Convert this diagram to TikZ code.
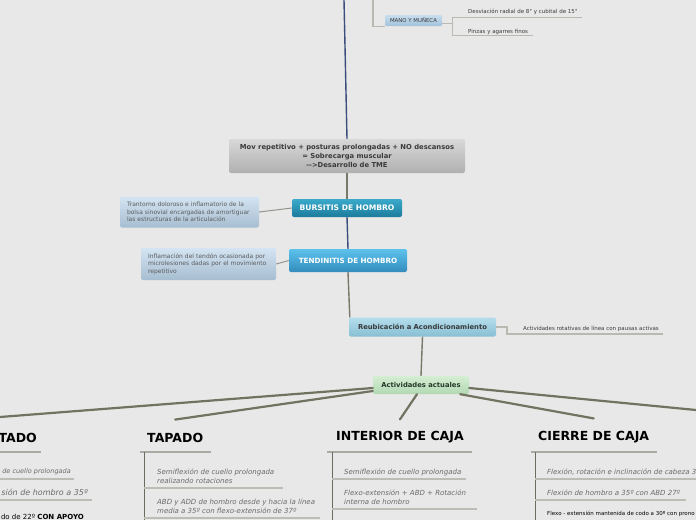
\documentclass[tikz,border=0pt]{standalone}
\usepackage{fontspec}
\setmainfont{DejaVu Sans}
\usetikzlibrary{positioning,calc}
\definecolor{canvasBg}{HTML}{E8E8E8}
\definecolor{navyLine}{HTML}{3B4D7C}
\definecolor{oliveLine}{HTML}{78786A}
\definecolor{branchLine}{HTML}{727260}
\definecolor{softLine}{HTML}{B9B9B1}
\definecolor{ruleLine}{HTML}{BDBDB6}
\definecolor{colLine}{HTML}{6C6C5E}
\definecolor{txtDark}{HTML}{3A3A3A}
\definecolor{txtMid}{HTML}{5C5C5C}
\definecolor{txtItem}{HTML}{6A6A6A}
\definecolor{greenText}{HTML}{28382A}
\definecolor{coreTop}{HTML}{D8D8D8}
\definecolor{coreBot}{HTML}{B0B0B0}
\definecolor{bursTop}{HTML}{3AAACB}
\definecolor{bursBot}{HTML}{1C7B9C}
\definecolor{tendTop}{HTML}{5CC2EC}
\definecolor{tendBot}{HTML}{338CBD}
\definecolor{reubTop}{HTML}{B4DEEC}
\definecolor{reubBot}{HTML}{88BED3}
\definecolor{actTop}{HTML}{D4EED4}
\definecolor{actBot}{HTML}{B2D8B2}
\definecolor{noteTop}{HTML}{D4E4F2}
\definecolor{noteBot}{HTML}{A6BDD1}
\definecolor{manoTop}{HTML}{C8DEEE}
\definecolor{manoBot}{HTML}{A2C2DB}

\begin{document}
\begin{tikzpicture}[x=1pt,y=-1pt,
          every node/.style={font=\fontsize{6.8}{9}\selectfont\bfseries,
                             text=txtDark,align=center,inner sep=0pt},
          core/.style={rounded corners=2pt,top color=coreTop,bottom color=coreBot},
          issue/.style={rounded corners=2pt,text=white},
          note/.style={rounded corners=2pt,top color=noteTop,bottom color=noteBot,
                       align=left,text=txtMid,inner xsep=7pt,
                       font=\fontsize{6}{7.6}\selectfont},
          header/.style={font=\fontsize{12.5}{14}\selectfont\bfseries,text=black},
          leaf/.style={align=left,text=txtItem,font=\fontsize{7}{9}\selectfont\itshape},
          tiny/.style={align=left,text=txtDark,font=\fontsize{5.5}{7}\selectfont},
          branch/.style={branchLine,line width=2.2pt,line cap=round},
        ]
        \useasboundingbox (0,0) rectangle (696,520);
        \fill[canvasBg] (0,0) rectangle (696,520);
        \clip (0,0) rectangle (696,520);

        % central column
        \node[core,minimum width=236,minimum height=34] (core) at (347,156)
              {Mov repetitivo + posturas prolongadas + NO descansos\\= Sobrecarga muscular\\{-}{-}>Desarrollo de TME};
        \node[issue,top color=bursTop,bottom color=bursBot,font=\fontsize{7.6}{9}\selectfont\bfseries,
              minimum width=110,minimum height=18] (bursitis) at (347,208) {BURSITIS DE HOMBRO};
        \node[issue,top color=tendTop,bottom color=tendBot,font=\fontsize{7.2}{9}\selectfont\bfseries,
              minimum width=118,minimum height=23] (tendinitis) at (348,260.5) {TENDINITIS DE HOMBRO};
        \node[rounded corners=2pt,top color=reubTop,bottom color=reubBot,
              minimum width=147,minimum height=19] (reub) at (422.5,327) {Reubicación a Acondicionamiento};
        \node[rounded corners=2pt,top color=actTop,bottom color=actBot,
              text=greenText,minimum width=96,minimum height=18] (act) at (421,385) {Actividades actuales};

        % descriptions
        \node[note,text width=125,minimum height=31] (bursDesc) at (189.5,212)
              {Trantorno doloroso e inflamatorio de la\\bolsa sinovial encargadas de amortiguar\\las estructuras de la articulación};
        \node[note,text width=121,minimum height=32] (tendDesc) at (208.5,264)
              {Inflamación del tendón ocasionada por\\microlesiones dadas por el movimiento\\repetitivo};

        % connectors
        \coordinate (topEnd) at (344,0);
        \draw[navyLine,line width=1.4pt] (topEnd) -- (core.north);
        \draw[oliveLine,line width=1.4pt] (core.south) -- (bursitis.north);
        \draw[navyLine,line width=1.4pt] (bursitis.south) -- (tendinitis.north);
        \draw[oliveLine,line width=1.4pt] (tendinitis.south) -- ([xshift=1pt]reub.north west);
        \draw[oliveLine,line width=1.4pt] (reub.south) -- (act.north);
        \draw[softLine!80!black,line width=1pt] (bursDesc.east) -- (bursitis.west);
        \draw[softLine!80!black,line width=1pt] (tendDesc.east) -- (tendinitis.west);

        % hand and wrist
        \node[rounded corners=1pt,top color=manoTop,bottom color=manoBot,
              font=\fontsize{5.4}{6}\selectfont,text=txtDark,minimum width=57,minimum height=11] (mano) at (413.5,20.5) {MANO Y MUÑECA};
        \coordinate (manoStem) at (373,0);
        \draw[softLine,line width=1.2pt] (manoStem) |- (mano.south west);
        \coordinate (fork) at (452,23.5);
        \coordinate (desvL) at (452,17);
        \coordinate (desvR) at (582,17);
        \coordinate (pinzL) at (452,35);
        \coordinate (pinzR) at (533,35);
        \draw[softLine,line width=1.2pt] ([yshift=-3pt]mano.east) -- (fork);
        \draw[softLine,line width=1pt] (desvR) -- (desvL) -- (pinzL) -- (pinzR);
        \node[tiny,anchor=west] (desv) at (468,11.5) {Desviación radial de 8° y cubital de 15°};
        \node[tiny,anchor=west] (pinz) at (468,31.5) {Pinzas y agarres finos};

        % rotation note
        \coordinate (rotL) at (507,334);
        \coordinate (rotR) at (663,334);
        \draw[softLine,line width=1.2pt] (reub.east) -| (rotL) -- (rotR);
        \node[tiny,anchor=west] (rot) at (523,328.5) {Actividades rotativas de línea con pausas activas};

        % headers
        \node[header,anchor=east] (sentado) at (37,437.5) {TADO};
        \node[header,anchor=west] (tapado) at (147,437.5) {TAPADO};
        \node[header,anchor=west] (interior) at (336,437.5) {INTERIOR DE CAJA};
        \node[header,anchor=west] (cierre) at (538,437.5) {CIERRE DE CAJA};
        \coordinate (farLeft) at (0,417);
        \coordinate (farRight) at (696,410);
        \draw[branch] ([yshift=-3pt]act.west) -- (farLeft);
        \draw[branch] ([yshift=-6pt]act.west) -- ([yshift=13pt]tapado.north);
        \draw[branch] ([xshift=-4pt]act.south) -- ([yshift=12pt]interior.north);
        \draw[branch] ([xshift=-9pt]act.south east) -- ([yshift=13pt]cierre.north);
        \draw[branch] ([yshift=-3pt]act.east) -- (farRight);

        % header rules and columns
        \draw[ruleLine!90!black,line width=1.5pt] (0,452) -- (41,452);
        \draw[ruleLine!90!black,line width=1.5pt] (140,452) -- (211,452);
        \draw[ruleLine!90!black,line width=1.5pt] (327,452) -- (472,452);
        \draw[ruleLine!90!black,line width=1.5pt] (531,452) -- (657,452);
        \foreach \x in {144,332,535} {
          \draw[colLine,line width=1pt] (\x,452) -- (\x,520);
        }
        \foreach \x/\y/\z in {0/479/74,0/500/92,144/488/283,144/518/320,332/479/466,332/509/477,535/479/696,535/500/686} {
          \draw[ruleLine,line width=1.2pt] (\x,\y) -- (\z,\y);
        }

        % items
        \node[leaf,anchor=east,font=\fontsize{6.5}{9}\selectfont\itshape] (s1) at (71,472) {de cuello prolongada};
        \node[leaf,anchor=east,font=\fontsize{8}{10}\selectfont\itshape] (s2) at (88,492.5) {sión de hombro a 35º};
        \node[anchor=east,text=black,font=\fontsize{7}{8}\selectfont] (s3) at (84,517) {do de 22º \textbf{CON APOYO}};

        \node[leaf,anchor=west] (t1) at (157,476.5) {Semiflexión de cuello prolongada\\realizando rotaciones};
        \node[leaf,anchor=west] (t2) at (157,506) {ABD y ADD de hombro desde y hacia la línea\\media a 35º con flexo-extensión de 37º};

        \node[leaf,anchor=west] (i1) at (344,472) {Semiflexión de cuello prolongada};
        \node[leaf,anchor=west] (i2) at (344,497.5) {Flexo-extensión + ABD + Rotación\\interna de hombro};

        \node[leaf,anchor=west] (c1) at (547,472) {Flexión, rotación e inclinación de cabeza 3};
        \node[leaf,anchor=west] (c2) at (547,493) {Flexión de hombro a 35º con ABD 27º};
        \node[tiny,anchor=west,text=black] (c3) at (547,514) {Flexo - extensión mantenida de codo a 30º con prono};
      \end{tikzpicture}
\end{document}
